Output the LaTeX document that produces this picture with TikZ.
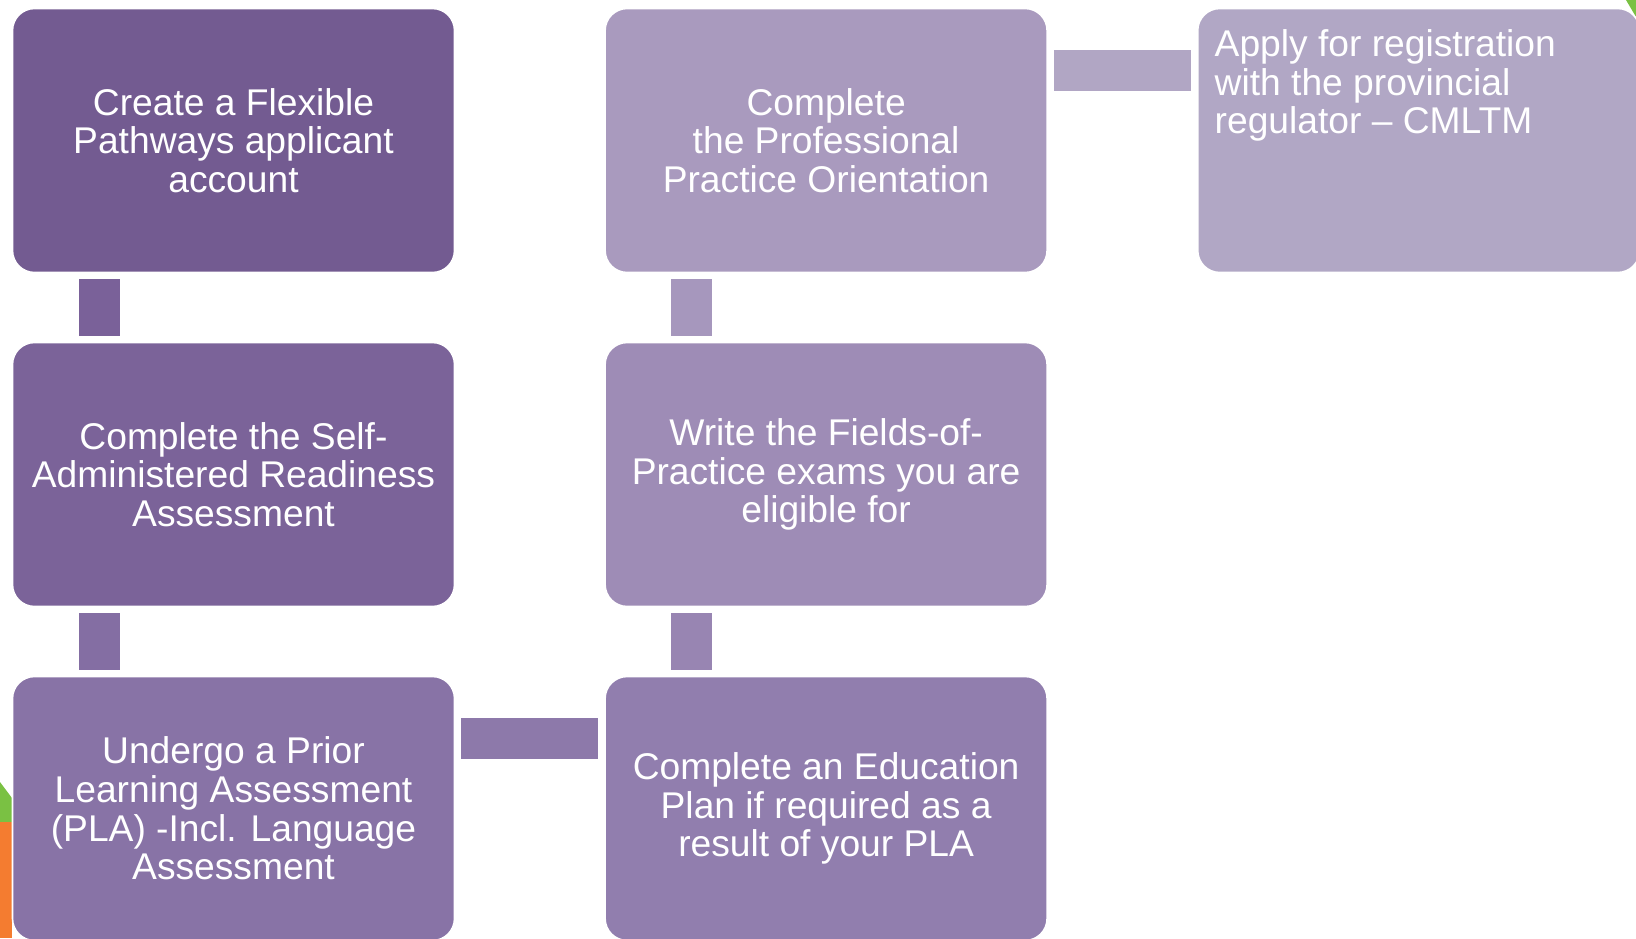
\documentclass[tikz,border=0pt]{standalone}
\usepackage{fontspec}
\setmainfont{Liberation Sans}
\usetikzlibrary{calc,positioning}
\definecolor{stepA}{HTML}{735B91}
\definecolor{stepB}{HTML}{7B6399}
\definecolor{stepC}{HTML}{8873A6}
\definecolor{stepD}{HTML}{917EAE}
\definecolor{stepE}{HTML}{9E8CB6}
\definecolor{stepF}{HTML}{A99ABE}
\definecolor{stepG}{HTML}{B1A7C5}
\definecolor{lnkA}{HTML}{7A6199}
\definecolor{lnkB}{HTML}{846EA3}
\definecolor{lnkC}{HTML}{8D79AA}
\definecolor{lnkD}{HTML}{9885B2}
\definecolor{lnkE}{HTML}{A697BD}
\definecolor{lnkF}{HTML}{B1A6C4}
\definecolor{leafgreen}{HTML}{7AC143}
\definecolor{leaforange}{HTML}{F47C30}
\tikzstyle{stepbox}=[draw=white, line width=0.8pt, rounded corners=11pt,
    minimum width=221pt, minimum height=132pt, text=white, align=center,
    font=\fontsize{18.6}{19.3}\selectfont, inner sep=3pt]
\tikzset{link/.style={line width=20.5pt, shorten >=3pt, shorten <=3pt}}
\newcommand{\topbox}[1]{\begin{minipage}[c][111pt][t]{204pt}\raggedright #1\end{minipage}}

\begin{document}
\begin{tikzpicture}[x=0.5pt,y=-0.5pt,node distance=34.2pt and 74.5pt]
    \useasboundingbox (0,0) rectangle (1636,938);
    % bits of the slide behind the boxes
    \fill[leafgreen] (0,782) -- (12,798) -- (12,822) -- (0,822) -- cycle;
    \fill[leaforange] (0,822) rectangle (12,938);
    \fill[leafgreen] (1626,0) -- (1636,0) -- (1636,17) -- cycle;

    \node [stepbox, fill=stepA] (acct) at (233.5,140.5) {Create a Flexible\\Pathways applicant\\account};
    \node [stepbox, fill=stepB, below=of acct] (ready) {Complete the Self-\\Administered Readiness\\Assessment};
    \node [stepbox, fill=stepC, below=of ready] (pla) {Undergo a Prior\\Learning Assessment\\(PLA) -Incl. Language\\Assessment};
    \node [stepbox, fill=stepD, right=of pla] (plan) {Complete an Education\\Plan if required as a\\result of your PLA};
    \node [stepbox, fill=stepE, above=of plan] (exams) {Write the Fields-of-\\Practice exams you are\\eligible for};
    \node [stepbox, fill=stepF, above=of exams] (ppo) {Complete\\the Professional\\Practice Orientation};
    \node [stepbox, fill=stepG, right=of ppo] (reg) {\topbox{Apply for registration\\with the provincial\\regulator -- CMLTM}};

    \draw[link, lnkA] ($(acct.south west)+(87.5,0)$) -- ($(ready.north west)+(87.5,0)$);
    \draw[link, lnkB] ($(ready.south west)+(87.5,0)$) -- ($(pla.north west)+(87.5,0)$);
    \draw[link, lnkC] ($(pla.north east)+(0,62.5)$) -- ($(plan.north west)+(0,62.5)$);
    \draw[link, lnkD] ($(plan.north west)+(87.5,0)$) -- ($(exams.south west)+(87.5,0)$);
    \draw[link, lnkE] ($(exams.north west)+(87.5,0)$) -- ($(ppo.south west)+(87.5,0)$);
    \draw[link, lnkF] ($(ppo.north east)+(0,62.5)$) -- ($(reg.north west)+(0,62.5)$);
\end{tikzpicture}
\end{document}
